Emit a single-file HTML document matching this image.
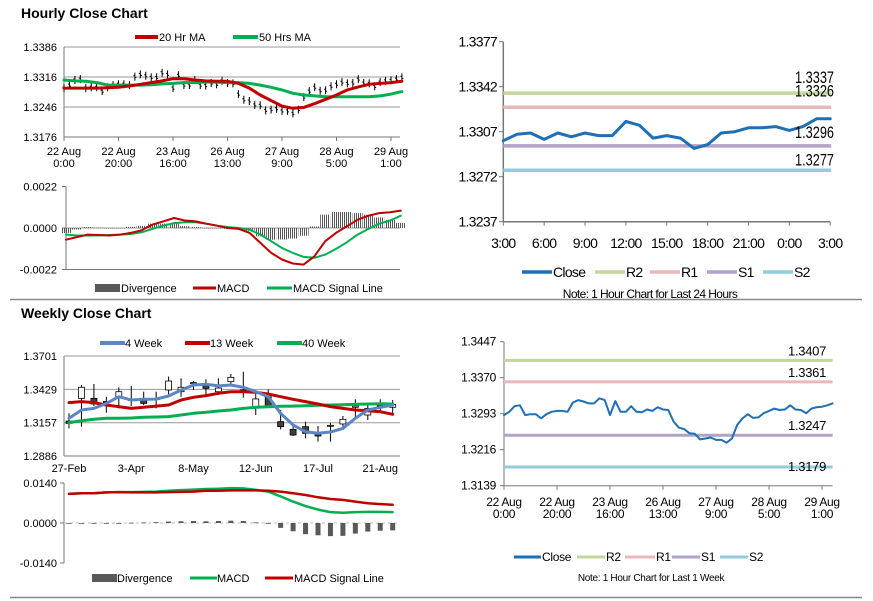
<!DOCTYPE html>
<html><head><meta charset="utf-8"><style>
html,body{margin:0;padding:0;background:#fff;}
svg{display:block;font-family:"Liberation Sans",Arial,sans-serif;}
.t11{font-size:11px;fill:#000;}
.nar{font-size:14px;fill:#000;letter-spacing:-0.7px;}
.b12{font-size:12px;fill:#000;letter-spacing:-0.3px;}
</style></head><body>
<svg id="root" width="873" height="601" viewBox="0 0 873 601" xmlns="http://www.w3.org/2000/svg">
<defs>
<pattern id="hatch" width="2" height="4" patternUnits="userSpaceOnUse"><rect x="0" y="0" width="1" height="4" fill="#555"/></pattern>
</defs>
<text x="21" y="18" font-size="14" font-weight="bold">Hourly Close Chart</text>
<text x="21" y="318" font-size="14" font-weight="bold">Weekly Close Chart</text>
<line x1="10" y1="299.5" x2="862" y2="299.5" stroke="#888" stroke-width="1.5"/>
<line x1="10" y1="597.5" x2="862" y2="597.5" stroke="#888" stroke-width="1.5"/>

<g>
<line x1="135" y1="37" x2="158" y2="37" stroke="#c00000" stroke-width="4"/>
<text x="159" y="41" class="t11">20 Hr MA</text>
<line x1="233" y1="37" x2="258" y2="37" stroke="#00b050" stroke-width="4"/>
<text x="259" y="41" class="t11">50 Hrs MA</text>
</g>
<g>
<rect x="95" y="284" width="25" height="8" fill="#595959"/>
<text x="121" y="292" class="t11">Divergence</text>
<line x1="193" y1="288" x2="216" y2="288" stroke="#c00000" stroke-width="3"/>
<text x="217" y="292" class="t11">MACD</text>
<line x1="267" y1="288" x2="292" y2="288" stroke="#00b050" stroke-width="3"/>
<text x="293" y="292" class="t11">MACD Signal Line</text>
</g>
<g>
<line x1="100" y1="343" x2="125" y2="343" stroke="#5b86c5" stroke-width="4"/>
<text x="125" y="347" class="t11">4 Week</text>
<line x1="185" y1="343" x2="210" y2="343" stroke="#c00000" stroke-width="4"/>
<text x="210" y="347" class="t11">13 Week</text>
<line x1="277" y1="343" x2="302" y2="343" stroke="#00b050" stroke-width="4"/>
<text x="302" y="347" class="t11">40 Week</text>
</g>
<g>
<rect x="92" y="574" width="25" height="8" fill="#595959"/>
<text x="117" y="582" class="t11">Divergence</text>
<line x1="190" y1="578" x2="217" y2="578" stroke="#00b050" stroke-width="3"/>
<text x="217" y="582" class="t11">MACD</text>
<line x1="265" y1="578" x2="293" y2="578" stroke="#c00000" stroke-width="3"/>
<text x="294" y="582" class="t11">MACD Signal Line</text>
</g>
<g>
<line x1="522" y1="272" x2="552" y2="272" stroke="#1f6fb5" stroke-width="3.5"/>
<text x="553" y="277" class="nar">Close</text>
<line x1="595" y1="272" x2="625" y2="272" stroke="#c3d69b" stroke-width="3.5"/>
<text x="626" y="277" class="nar">R2</text>
<line x1="650" y1="272" x2="680" y2="272" stroke="#e6b9b8" stroke-width="3.5"/>
<text x="681" y="277" class="nar">R1</text>
<line x1="707" y1="272" x2="737" y2="272" stroke="#b3a2c7" stroke-width="3.5"/>
<text x="738" y="277" class="nar">S1</text>
<line x1="763" y1="272" x2="793" y2="272" stroke="#93cddd" stroke-width="3.5"/>
<text x="794" y="277" class="nar">S2</text>
<text x="650" y="298" font-size="12" letter-spacing="-0.6" text-anchor="middle">Note: 1 Hour Chart for Last 24 Hours</text>
</g>
<g>
<line x1="514" y1="557" x2="541" y2="557" stroke="#1f6fb5" stroke-width="3"/>
<text x="542" y="561" class="b12">Close</text>
<line x1="577" y1="557" x2="605" y2="557" stroke="#c3d69b" stroke-width="3"/>
<text x="606" y="561" class="b12">R2</text>
<line x1="625" y1="557" x2="655" y2="557" stroke="#e6b9b8" stroke-width="3"/>
<text x="656" y="561" class="b12">R1</text>
<line x1="672" y1="557" x2="700" y2="557" stroke="#b3a2c7" stroke-width="3"/>
<text x="701" y="561" class="b12">S1</text>
<line x1="720" y1="557" x2="748" y2="557" stroke="#93cddd" stroke-width="3"/>
<text x="749" y="561" class="b12">S2</text>
<text x="651" y="581" font-size="10" letter-spacing="-0.3" text-anchor="middle">Note: 1 Hour Chart for  Last 1 Week</text>
</g>
<g id="marks"></g>
</svg>
<script>
const hourlyClose = [1.3290,1.3297,1.3309,1.3311,1.3290,1.3292,1.3292,1.3283,1.3292,1.3297,1.3299,1.3299,1.3297,1.3317,1.3322,1.3319,1.3315,1.3315,1.3326,1.3322,1.3290,1.3320,1.3297,1.3297,1.3309,1.3297,1.3296,1.3302,1.3299,1.3307,1.3302,1.3301,1.3276,1.3263,1.3260,1.3251,1.3250,1.3238,1.3240,1.3242,1.3237,1.3237,1.3231,1.3240,1.3269,1.3283,1.3292,1.3284,1.3285,1.3294,1.3299,1.3304,1.3301,1.3302,1.3311,1.3302,1.3301,1.3294,1.3304,1.3307,1.3308,1.3311,1.3315];
const ma20 = [1.3290,1.3290,1.3290,1.3290,1.3291,1.3292,1.3295,1.3299,1.3303,1.3307,1.3312,1.3312,1.3309,1.3307,1.3306,1.3306,1.3301,1.3290,1.3274,1.3261,1.3248,1.3243,1.3245,1.3254,1.3264,1.3274,1.3286,1.3293,1.3299,1.3301,1.3303,1.3306];
const ma50 = [1.3309,1.3307,1.3306,1.3303,1.3297,1.3297,1.3297,1.3297,1.3298,1.3300,1.3301,1.3303,1.3303,1.3304,1.3304,1.3303,1.3303,1.3301,1.3297,1.3292,1.3286,1.3278,1.3274,1.3272,1.3270,1.3270,1.3270,1.3270,1.3270,1.3272,1.3276,1.3282];
const hMacd = [-0.00062,-0.00048,-0.00035,-0.00037,-0.0004,-0.00035,-0.00026,-0.00012,0.00018,0.00035,0.00053,0.0004,0.00035,0.00023,0.00012,0,-0.00005,-0.00026,-0.00079,-0.00132,-0.00167,-0.00188,-0.00194,-0.0015,-0.0007,-0.00026,0.00009,0.00044,0.00065,0.00079,0.00083,0.00092];
const hSignal = [-0.00035,-0.0004,-0.0004,-0.00039,-0.00037,-0.00035,-0.00032,-0.00023,-0.00005,0.00012,0.00026,0.0003,0.0003,0.00023,0.00012,0.00005,0,-0.00009,-0.00035,-0.0007,-0.00106,-0.00132,-0.00153,-0.00158,-0.00141,-0.00111,-0.00076,-0.00035,-0.00005,0.00023,0.0004,0.00065];
const hTicks = [1.3386,1.3316,1.3246,1.3176];
const hMacdTicks = [0.0022,0,-0.0022];
const hXLabels = [["22 Aug","0:00"],["22 Aug","20:00"],["23 Aug","16:00"],["26 Aug","13:00"],["27 Aug","9:00"],["28 Aug","5:00"],["29 Aug","1:00"]];
const dayClose = [1.3300,1.3305,1.3306,1.3301,1.3306,1.3303,1.3306,1.3304,1.3304,1.3315,1.3312,1.3302,1.3304,1.3302,1.3294,1.3297,1.3306,1.3307,1.3310,1.3310,1.3311,1.3308,1.3311,1.3317,1.3317];
const dayLevels = [1.3337,1.3326,1.3296,1.3277];
const dayLevelNames = ["R2","R1","S1","S2"];
const dayTicks = [1.3377,1.3342,1.3307,1.3272,1.3237];
const dayXLabels = ["3:00","6:00","9:00","12:00","15:00","18:00","21:00","0:00","3:00"];
const weekLevels = [1.3407,1.3361,1.3247,1.3179];
const weekTicks = [1.3447,1.3370,1.3293,1.3216,1.3139];
const wOpen  = [1.3171,1.3356,1.3356,1.3330,1.3369,1.3342,1.3342,1.3348,1.3424,1.3410,1.3478,1.3459,1.3410,1.3492,1.3424,1.3288,1.3369,1.3166,1.3103,1.3125,1.3076,1.3130,1.3147,1.3283,1.3220,1.3293,1.3283];
const wClose = [1.3152,1.3446,1.3310,1.3328,1.3410,1.3348,1.3315,1.3353,1.3497,1.3446,1.3484,1.3437,1.3440,1.3527,1.3418,1.3351,1.3293,1.3125,1.3057,1.3071,1.3049,1.3136,1.3185,1.3293,1.3274,1.3299,1.3307];
const wHigh  = [1.3234,1.3465,1.3473,1.3369,1.3446,1.3457,1.3410,1.3410,1.3533,1.3519,1.3497,1.3511,1.3519,1.3554,1.3573,1.3397,1.3429,1.3261,1.3139,1.3166,1.3130,1.3157,1.3212,1.3348,1.3321,1.3348,1.3342];
const wLow   = [1.3111,1.3125,1.3293,1.3239,1.3274,1.3293,1.3302,1.3274,1.3389,1.3369,1.3424,1.3383,1.3383,1.3457,1.3361,1.3220,1.3288,1.3103,1.3049,1.3030,1.3003,1.3003,1.3125,1.3193,1.3179,1.3247,1.3234];
const wk4  = [1.3193,1.3261,1.3274,1.3315,1.3369,1.3342,1.3348,1.3350,1.3375,1.3424,1.3465,1.3470,1.3457,1.3465,1.3446,1.3410,1.3369,1.3234,1.3139,1.3084,1.3071,1.3082,1.3111,1.3193,1.3261,1.3283,1.3302];
const wk13 = [1.3321,1.3329,1.3321,1.3302,1.3288,1.3274,1.3283,1.3293,1.3302,1.3342,1.3364,1.3378,1.3397,1.3410,1.3410,1.3405,1.3391,1.3369,1.3348,1.3329,1.3310,1.3288,1.3274,1.3261,1.3255,1.3247,1.3226];
const wk40 = [1.3158,1.3174,1.3185,1.3193,1.3193,1.3196,1.3201,1.3204,1.3207,1.3220,1.3234,1.3242,1.3253,1.3261,1.3274,1.3283,1.3288,1.3291,1.3293,1.3296,1.3299,1.3302,1.3304,1.3307,1.3310,1.3312,1.3310];
const wMacd = [0.0102,0.0104,0.0104,0.0107,0.0108,0.0108,0.0109,0.0110,0.0113,0.0115,0.0117,0.0119,0.0120,0.0122,0.0121,0.0116,0.0110,0.0093,0.0075,0.0059,0.0047,0.0038,0.0036,0.0038,0.0039,0.0039,0.0038];
const wSignal = [0.0102,0.0104,0.0104,0.0107,0.0108,0.0107,0.0107,0.0107,0.0108,0.0109,0.0110,0.0113,0.0113,0.0114,0.0114,0.0114,0.0113,0.0110,0.0104,0.0098,0.0090,0.0084,0.0081,0.0075,0.0069,0.0066,0.0064];
const wTicks = [1.3701,1.3429,1.3157,1.2886];
const wMacdTicks = [0.0140,0,-0.0140];
const wXLabels = ["27-Feb","3-Apr","8-May","12-Jun","17-Jul","21-Aug"];

const NS = "http://www.w3.org/2000/svg";
const G = document.getElementById("marks");
function mk(tag, attrs, parent){
  const e = document.createElementNS(NS, tag);
  for (const k in attrs) e.setAttribute(k, attrs[k]);
  (parent||G).appendChild(e);
  return e;
}
function fmt(v,d){ return v.toFixed(d); }

const hx = h => 64 + h*2.725;
const hy = p => 47 + (1.3386-p)/0.021*90;
const mx = h => 66 + h*2.7;
const my = v => 228 - v/0.0022*41.5;
const rx = h => 503.3 + h*13.62;
const ry = p => 41.7 + (1.3377-p)/0.014*180;
const bx = h => 504 + h*2.65;
const by = p => 341.7 + (1.3447-p)/0.0308*144;
const wx = i => 69 + i*12.45;
const wy = p => 356 + (1.3701-p)/0.0815*100;
const wmy = v => 523 - v/0.014*40;

hTicks.forEach((t,i)=>{
  const y = hy(t);
  const gl = mk("line",{x1:64,y1:y,x2:400,y2:y,stroke:i===hTicks.length-1?"#777":"#999","stroke-width":1});
  
  
  const tx = mk("text",{x:57,y:y+4,"text-anchor":"end",class:"t11"});
  tx.textContent = fmt(t,4);
  
  
});
{
  const ax = mk("line",{x1:64,y1:47,x2:64,y2:137,stroke:"#777"});
  
  
}
hXLabels.forEach((l,i)=>{
  const x = hx(i*20);
  const tk = mk("line",{x1:x,y1:137,x2:x,y2:141,stroke:"#777"});
  
  
  const t = mk("text",{x:x,y:155,"text-anchor":"middle",class:"t11"});
  t.textContent = l[0];
  
  
  const t2 = mk("text",{x:x,y:167,"text-anchor":"middle",class:"t11"});
  t2.textContent = l[1];
  
  
});
hourlyClose.forEach((c,i)=>{
  const x = hx(i*2), y = hy(c);
  const b = mk("path",{d:`M${x},${y-4}V${y+4}M${x-1.5},${y-1}H${x}M${x},${y+1}H${x+1.5}`,stroke:"#000","stroke-width":1,fill:"none"});
  
  
});
function poly(arr, xf, yf, step, color, w){
  const pts = arr.map((v,i)=>`${xf(i*step).toFixed(1)},${yf(v).toFixed(1)}`).join(" ");
  return mk("polyline",{points:pts,fill:"none",stroke:color,"stroke-width":w,"stroke-linejoin":"round","stroke-linecap":"round"});
}
{
  const p1 = poly(ma50, hx, hy, 4, "#00b050", 3);
  
  
  const p2 = poly(ma20, hx, hy, 4, "#c00000", 3);
  
  
}
hMacdTicks.forEach(t=>{
  const y = my(t);
  const tx = mk("text",{x:57,y:y+4,"text-anchor":"end",class:"t11"});
  tx.textContent = fmt(t,4);
  
  
  const tk = mk("line",{x1:62,y1:y,x2:66,y2:y,stroke:"#777"});
  
  
});
{
  const a = mk("line",{x1:66,y1:my(0.0022),x2:66,y2:my(-0.0022),stroke:"#777"});
  
  
  const b = mk("line",{x1:66,y1:my(-0.0022),x2:400,y2:my(-0.0022),stroke:"#777"});
  
  
  const z = mk("line",{x1:66,y1:my(0),x2:400,y2:my(0),stroke:"#999"});
  
  
}
hMacd.forEach((v,i)=>{
  const d = v - hSignal[i];
  const y0 = my(0), y1 = my(d);
  const r = mk("rect",{x:mx(i*4)-5,y:Math.min(y0,y1),width:10,height:Math.max(0.5,Math.abs(y1-y0)),fill:"url(#hatch)"});
  
  
});
{
  const p1 = poly(hSignal, mx, my, 4, "#00b050", 2);
  
  
  const p2 = poly(hMacd, mx, my, 4, "#c00000", 2);
  
  
}
dayTicks.forEach(t=>{
  const y = ry(t);
  const tx = mk("text",{x:497,y:y+5,"text-anchor":"end",class:"nar"});
  tx.textContent = fmt(t,4);
  
  
  const tk = mk("line",{x1:499,y1:y,x2:503.3,y2:y,stroke:"#777"});
  
  
});
{
  const a = mk("line",{x1:503.3,y1:ry(1.3377),x2:503.3,y2:ry(1.3237),stroke:"#777","stroke-width":1.5});
  
  
  const b = mk("line",{x1:503.3,y1:ry(1.3237),x2:rx(24),y2:ry(1.3237),stroke:"#777","stroke-width":1.5});
  
  
}
dayXLabels.forEach((l,i)=>{
  const x = rx(i*3);
  const tk = mk("line",{x1:x,y1:ry(1.3237),x2:x,y2:ry(1.3237)+4,stroke:"#777"});
  
  
  const t = mk("text",{x:x,y:248,"text-anchor":"middle",class:"nar"});
  t.textContent = l;
  
  
});
const lvlColors = ["#c3d69b","#e6b9b8","#b3a2c7","#93cddd"];
const dayLabelOff = [-10,-11,-8,-5];
dayLevels.forEach((v,i)=>{
  const y = ry(v);
  const l = mk("line",{x1:503.3,y1:y,x2:rx(24)+1,y2:y,stroke:lvlColors[i],"stroke-width":3.5});
  
  
});
{
  const p = poly(dayClose, rx, ry, 1, "#1f6fb5", 3);
  
  
}
dayLevels.forEach((v,i)=>{
  const y = ry(v);
  const t = mk("text",{x:834,y:y+dayLabelOff[i],"text-anchor":"end","font-size":17,textLength:39,lengthAdjust:"spacingAndGlyphs"});
  t.textContent = fmt(v,4);
  
  
});
weekTicks.forEach(t=>{
  const y = by(t);
  const tx = mk("text",{x:496,y:y+4,"text-anchor":"end",class:"b12"});
  tx.textContent = fmt(t,4);
  
  
  const tk = mk("line",{x1:500,y1:y,x2:504,y2:y,stroke:"#777"});
  
  
});
{
  const a = mk("line",{x1:504,y1:by(1.3447),x2:504,y2:by(1.3139),stroke:"#777"});
  
  
  const b = mk("line",{x1:504,y1:by(1.3139),x2:bx(124),y2:by(1.3139),stroke:"#777"});
  
  
}
hXLabels.forEach((l,i)=>{
  const x = bx(i*20);
  const tk = mk("line",{x1:x,y1:by(1.3139),x2:x,y2:by(1.3139)+4,stroke:"#777"});
  
  
  const t = mk("text",{x:x,y:506,"text-anchor":"middle",class:"b12"});
  t.textContent = l[0];
  
  
  const t2 = mk("text",{x:x,y:518,"text-anchor":"middle",class:"b12"});
  t2.textContent = l[1];
  
  
});
weekLevels.forEach((v,i)=>{
  const y = by(v);
  const l = mk("line",{x1:504,y1:y,x2:bx(124),y2:y,stroke:lvlColors[i],"stroke-width":3});
  
  
});
{
  const p = poly(hourlyClose, bx, by, 2, "#1f6fb5", 2);
  
  
}
weekLevels.forEach((v,i)=>{
  const y = by(v);
  const t = mk("text",{x:826,y:i===3?y+4:y-5,"text-anchor":"end",class:"b12",style:"font-size:13px"});
  t.textContent = fmt(v,4);
  
  
});
wTicks.forEach((t,i)=>{
  const y = wy(t);
  const gl = mk("line",{x1:64,y1:y,x2:400,y2:y,stroke:i===wTicks.length-1?"#777":"#999"});
  
  
  const tx = mk("text",{x:57,y:y+4,"text-anchor":"end",class:"t11"});
  tx.textContent = fmt(t,4);
  
  
});
{
  const a = mk("line",{x1:64,y1:wy(1.3701),x2:64,y2:wy(1.2886),stroke:"#777"});
  
  
}
wXLabels.forEach((l,i)=>{
  const x = wx(i*5);
  const t = mk("text",{x:x,y:472,"text-anchor":"middle",class:"t11"});
  t.textContent = l;
  
  
});
wOpen.forEach((o,i)=>{
  const c = wClose[i], x = wx(i);
  const w = mk("line",{x1:x,y1:wy(wHigh[i]),x2:x,y2:wy(wLow[i]),stroke:"#000"});
  
  
  const top = wy(Math.max(o,c)), bot = wy(Math.min(o,c));
  const r = mk("rect",{x:x-3,y:top,width:6,height:Math.max(1,bot-top),fill:c>=o?"#fff":"#404040",stroke:"#000","stroke-width":0.8});
  
  
});
{
  const p1 = poly(wk40, wx, wy, 1, "#00b050", 3);
  
  
  const p2 = poly(wk13, wx, wy, 1, "#c00000", 3);
  
  
  const p3 = poly(wk4, wx, wy, 1, "#5b86c5", 3);
  
  
}
wMacdTicks.forEach(t=>{
  const y = wmy(t);
  const tx = mk("text",{x:57,y:y+4,"text-anchor":"end",class:"t11"});
  tx.textContent = fmt(t,4);
  
  
  const tk = mk("line",{x1:60,y1:y,x2:64,y2:y,stroke:"#777"});
  
  
});
{
  const a = mk("line",{x1:64,y1:wmy(0.014),x2:64,y2:wmy(-0.014),stroke:"#777"});
  
  
  const z = mk("line",{x1:64,y1:wmy(0),x2:400,y2:wmy(0),stroke:"#bbb","stroke-dasharray":"3,3"});
  
  
}
wMacd.forEach((v,i)=>{
  const d = v - wSignal[i];
  const y0 = wmy(0), y1 = wmy(d);
  const r = mk("rect",{x:wx(i)-2.5,y:Math.min(y0,y1),width:5,height:Math.max(0.8,Math.abs(y1-y0)),fill:"#595959"});
  
  
});
{
  const p1 = poly(wMacd, wx, wmy, 1, "#00b050", 2.5);
  
  
  const p2 = poly(wSignal, wx, wmy, 1, "#c00000", 2.5);
  
  
}
</script>
</body></html>
